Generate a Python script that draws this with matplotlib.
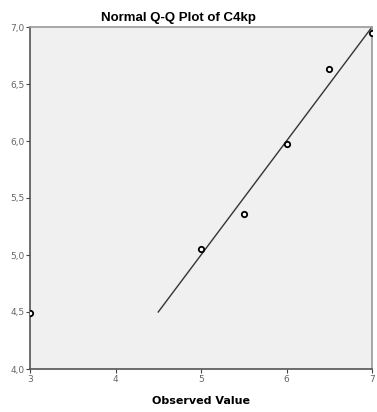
import matplotlib.pyplot as plt

# observed values and their expected normal quantiles
observed = [3.0, 5.0, 5.5, 6.0, 6.5, 7.0]
expected = [4.49, 5.05, 5.36, 5.97, 6.63, 6.95]

# reference line y = x
line_x = [4.5, 7.0]
line_y = [4.5, 7.0]

x_ticks = [3, 4, 5, 6, 7]
y_ticks = [4.0, 4.5, 5.0, 5.5, 6.0, 6.5, 7.0]
y_labels = ["4,0", "4,5", "5,0", "5,5", "6,0", "6,5", "7,0"]

fig = plt.figure(figsize=(3.77, 4.12), dpi=100)
ax = fig.add_axes([30 / 377, 1 - 369 / 412, 342 / 377, 342 / 412])
ax.set_facecolor("#f0f0f0")

ax.plot(line_x, line_y, color="#333333", lw=1.0)
ax.scatter(observed, expected, s=15, facecolors="white", edgecolors="black",
           linewidths=1.3, zorder=3)

ax.set_xlim(3, 7)
ax.set_ylim(4, 7)
ax.set_xticks(x_ticks)
ax.set_xticklabels([str(t) for t in x_ticks])
ax.set_yticks(y_ticks)
ax.set_yticklabels(y_labels)
ax.tick_params(labelsize=6.5, labelcolor="#666666", color="#444444",
               length=3, width=0.8, pad=1)

for side in ["left", "bottom"]:
    ax.spines[side].set_color("#555555")
    ax.spines[side].set_linewidth(1.2)
for side in ["top", "right"]:
    ax.spines[side].set_color("#999999")
    ax.spines[side].set_linewidth(1.2)

# title sits a little left of the plot centre
ax.set_title("Normal Q-Q Plot of C4kp", fontsize=9.5, fontweight="bold",
             family="Liberation Sans", pad=4, x=0.433)
ax.set_xlabel("Observed Value", fontsize=8, fontweight="bold",
              family="DejaVu Sans", labelpad=9)

fig.savefig("out.png", dpi=100)
